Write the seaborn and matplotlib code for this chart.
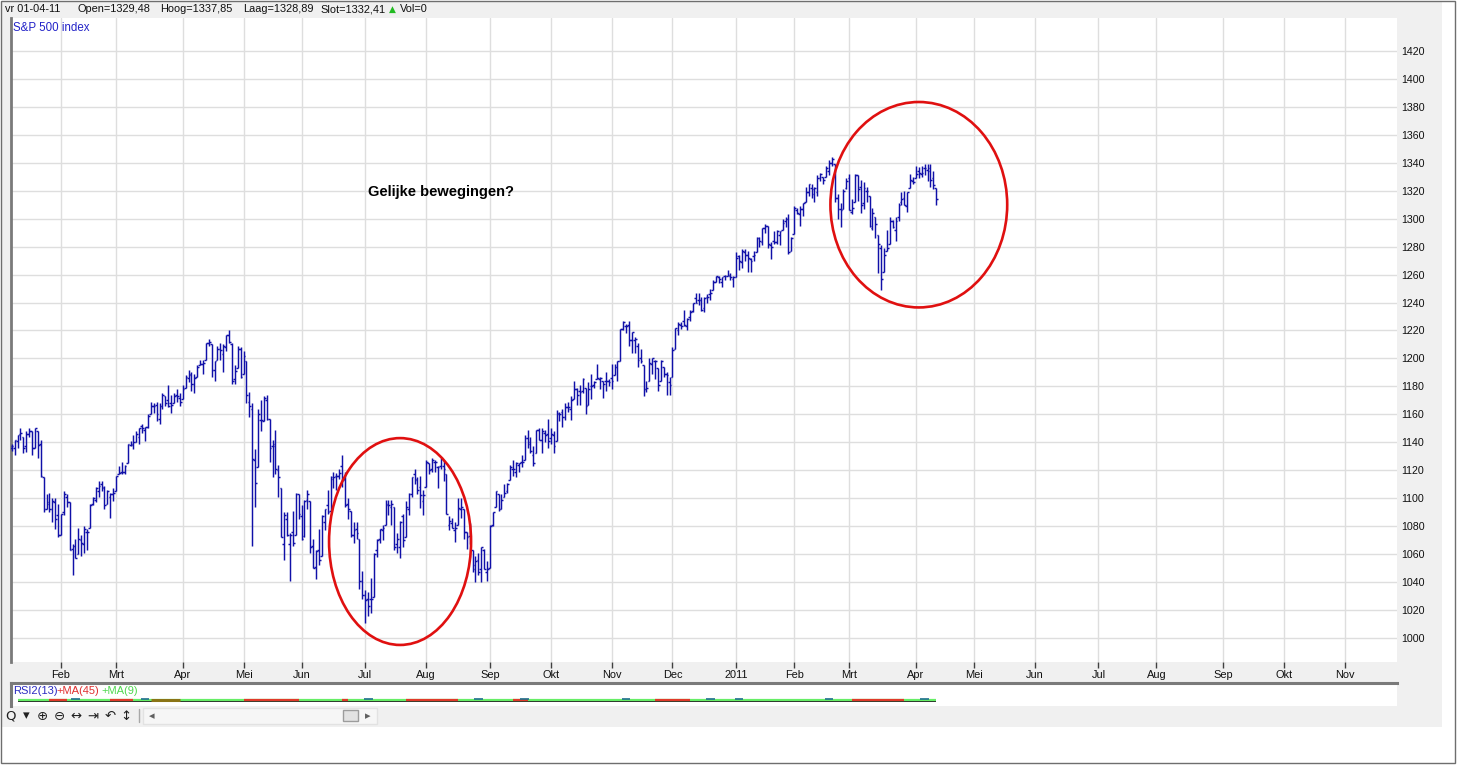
import numpy as np
import pandas as pd
import seaborn as sns
import matplotlib.pyplot as plt
from matplotlib.patches import Ellipse, Rectangle

sns.set_theme(style="white")
plt.rcParams['font.family'] = ['Liberation Sans', 'DejaVu Sans']

# --- DATA: S&P 500 daily bars, 4 jan 2010 .. 12 apr 2011 ---
holidays = ['2010-01-18', '2010-02-15', '2010-04-02', '2010-05-31', '2010-07-05',
            '2010-09-06', '2010-11-25', '2010-12-24', '2011-01-17', '2011-02-21',
            '2011-04-22', '2011-05-30', '2011-07-04', '2011-09-05', '2011-11-24']

opens = [
    1117, 1133, 1136, 1136, 1141, 1146, 1144, 1137, 1146, 1148, 1136, 1148, 1139, 1115, 1092, 1096, 1092, 1097, 1088,
    1074, 1090, 1101, 1097, 1064, 1066, 1060, 1070, 1067, 1076, 1079, 1096, 1099, 1105, 1110, 1107, 1096, 1101, 1103,
    1105, 1117, 1119, 1119, 1125, 1138, 1138, 1140, 1144, 1152, 1149, 1151, 1160, 1166, 1167, 1157, 1166, 1173, 1170, 1168, 1168, 1174, 1172,
    1171, 1179, 1186, 1188, 1182, 1187, 1195, 1196, 1199, 1211, 1210, 1192, 1199, 1207, 1203, 1208, 1217, 1210, 1185, 1193, 1207,
    1189, 1198, 1169, 1164, 1127, 1122, 1156, 1155, 1170, 1157, 1137, 1139, 1120, 1107, 1067, 1085, 1067, 1076, 1074, 1103,
    1087, 1073, 1099, 1098, 1066, 1051, 1063, 1059, 1083, 1095, 1091, 1114, 1116, 1116, 1123, 1114, 1096, 1091, 1074, 1078, 1071, 1041,
    1031, 1028, 1028, 1029, 1063, 1071, 1077, 1081, 1096, 1094, 1094, 1067, 1065, 1087, 1072, 1092, 1103, 1117, 1113, 1108, 1098,
    1108, 1125, 1121, 1126, 1122, 1123, 1123, 1117, 1081, 1082, 1077, 1081, 1092, 1092, 1076, 1073, 1063, 1049, 1056, 1049, 1063, 1047,
    1050, 1081, 1094, 1103, 1092, 1101, 1105, 1113, 1121, 1119, 1124, 1126, 1127, 1143, 1139, 1131, 1132, 1149, 1142, 1147, 1146,
    1143, 1145, 1141, 1160, 1162, 1158, 1165, 1164, 1171, 1178, 1177, 1177, 1179, 1167, 1180, 1181, 1185, 1185, 1184, 1184, 1184,
    1186, 1188, 1194, 1198, 1221, 1223, 1224, 1213, 1213, 1209, 1200, 1195, 1178, 1184, 1196, 1198, 1193, 1184, 1194, 1189, 1183,
    1187, 1207, 1220, 1224, 1227, 1223, 1230, 1234, 1243, 1242, 1242, 1236, 1244, 1246, 1249, 1255, 1258, 1255, 1259, 1259, 1259, 1257,
    1258, 1273, 1269, 1276, 1274, 1271, 1273, 1276, 1286, 1283, 1293, 1295, 1281, 1284, 1283, 1288, 1292, 1298, 1300, 1277,
    1289, 1306, 1303, 1307, 1312, 1319, 1322, 1318, 1319, 1329, 1330, 1330, 1334, 1340, 1339, 1315, 1307, 1307, 1322,
    1329, 1305, 1312, 1331, 1323, 1311, 1320, 1316, 1293, 1301, 1288, 1279, 1262, 1277, 1282, 1298, 1292, 1301, 1312, 1315, 1309, 1322, 1327,
    1329, 1334, 1332, 1336, 1335, 1336, 1329, 1322,
]
highs = [
    1134, 1137, 1139, 1142, 1145, 1150, 1144, 1148, 1150, 1148, 1150, 1148, 1142, 1115, 1103, 1104, 1100, 1100, 1096,
    1089, 1105, 1103, 1097, 1067, 1071, 1079, 1074, 1080, 1078, 1096, 1101, 1108, 1112, 1112, 1109, 1106, 1104, 1107,
    1116, 1123, 1126, 1124, 1139, 1141, 1145, 1148, 1150, 1153, 1151, 1160, 1169, 1168, 1169, 1168, 1175, 1173, 1181, 1174, 1175, 1178, 1175,
    1181, 1188, 1192, 1190, 1189, 1195, 1199, 1199, 1211, 1214, 1210, 1198, 1209, 1211, 1210, 1217, 1220, 1211, 1195, 1209, 1208,
    1205, 1198, 1176, 1168, 1135, 1164, 1170, 1173, 1174, 1157, 1142, 1149, 1124, 1107, 1090, 1090, 1075, 1091, 1104, 1103,
    1095, 1099, 1106, 1098, 1071, 1063, 1078, 1088, 1092, 1106, 1116, 1119, 1118, 1121, 1131, 1119, 1100, 1091, 1083, 1083, 1071, 1048,
    1034, 1033, 1043, 1061, 1071, 1078, 1081, 1099, 1099, 1099, 1094, 1075, 1084, 1089, 1098, 1104, 1115, 1121, 1115, 1116, 1106,
    1127, 1125, 1129, 1127, 1123, 1129, 1127, 1117, 1087, 1086, 1083, 1100, 1100, 1092, 1076, 1082, 1063, 1059, 1061, 1065, 1064, 1055,
    1081, 1090, 1105, 1103, 1103, 1110, 1111, 1124, 1127, 1126, 1125, 1131, 1145, 1149, 1144, 1137, 1149, 1150, 1150, 1149, 1157,
    1150, 1148, 1163, 1162, 1164, 1168, 1169, 1173, 1184, 1179, 1181, 1186, 1179, 1183, 1189, 1184, 1196, 1187, 1184, 1190, 1185,
    1196, 1196, 1198, 1221, 1227, 1225, 1227, 1219, 1215, 1211, 1207, 1195, 1184, 1200, 1200, 1199, 1193, 1199, 1194, 1190, 1187,
    1208, 1222, 1226, 1226, 1235, 1229, 1235, 1240, 1247, 1247, 1244, 1244, 1246, 1250, 1256, 1259, 1259, 1258, 1260, 1263, 1261, 1259,
    1276, 1274, 1278, 1278, 1277, 1272, 1277, 1287, 1287, 1293, 1296, 1295, 1283, 1291, 1292, 1291, 1300, 1301, 1303, 1287,
    1309, 1308, 1309, 1311, 1323, 1325, 1325, 1323, 1331, 1333, 1330, 1338, 1342, 1344, 1339, 1318, 1311, 1321, 1329,
    1332, 1314, 1332, 1331, 1328, 1326, 1323, 1316, 1308, 1301, 1288, 1281, 1279, 1292, 1301, 1299, 1301, 1311, 1319, 1320, 1319, 1332, 1330,
    1338, 1337, 1338, 1339, 1339, 1339, 1334, 1322,
]
lows = [
    1117, 1130, 1134, 1131, 1136, 1142, 1132, 1133, 1144, 1131, 1136, 1129, 1115, 1090, 1092, 1090, 1083, 1078, 1072,
    1074, 1088, 1094, 1063, 1045, 1057, 1060, 1059, 1061, 1063, 1079, 1095, 1097, 1101, 1105, 1092, 1096, 1086, 1098,
    1105, 1117, 1117, 1117, 1125, 1137, 1135, 1140, 1139, 1147, 1141, 1150, 1160, 1161, 1155, 1153, 1164, 1166, 1165, 1161, 1168, 1169, 1166,
    1171, 1179, 1183, 1177, 1175, 1187, 1195, 1189, 1199, 1209, 1187, 1184, 1199, 1199, 1190, 1205, 1211, 1182, 1182, 1193, 1186,
    1189, 1168, 1158, 1066, 1094, 1122, 1148, 1155, 1156, 1126, 1115, 1117, 1101, 1072, 1056, 1073, 1041, 1066, 1074, 1085,
    1070, 1072, 1092, 1061, 1050, 1042, 1052, 1059, 1077, 1089, 1091, 1107, 1106, 1114, 1108, 1094, 1085, 1072, 1068, 1071, 1035, 1028,
    1011, 1016, 1018, 1029, 1058, 1068, 1070, 1081, 1088, 1081, 1063, 1061, 1057, 1065, 1072, 1088, 1101, 1110, 1103, 1093, 1088,
    1108, 1117, 1119, 1119, 1107, 1121, 1112, 1089, 1077, 1079, 1069, 1081, 1086, 1071, 1064, 1067, 1047, 1040, 1045, 1040, 1049, 1041,
    1050, 1080, 1094, 1091, 1092, 1101, 1104, 1113, 1116, 1115, 1119, 1122, 1127, 1136, 1132, 1123, 1132, 1142, 1132, 1140, 1136,
    1139, 1132, 1141, 1155, 1151, 1156, 1162, 1156, 1171, 1167, 1167, 1175, 1160, 1167, 1171, 1179, 1185, 1178, 1172, 1177, 1180,
    1178, 1188, 1184, 1198, 1220, 1218, 1209, 1204, 1204, 1194, 1197, 1173, 1176, 1184, 1189, 1185, 1177, 1184, 1187, 1174, 1174,
    1187, 1207, 1217, 1221, 1223, 1220, 1227, 1233, 1240, 1238, 1234, 1233, 1240, 1242, 1249, 1255, 1254, 1251, 1256, 1259, 1256, 1251,
    1258, 1263, 1265, 1270, 1262, 1262, 1270, 1276, 1280, 1281, 1290, 1279, 1271, 1282, 1282, 1281, 1292, 1294, 1275, 1277,
    1289, 1303, 1295, 1302, 1312, 1316, 1315, 1312, 1316, 1327, 1325, 1330, 1331, 1338, 1312, 1300, 1294, 1307, 1321,
    1306, 1303, 1312, 1313, 1304, 1307, 1312, 1294, 1292, 1286, 1261, 1249, 1262, 1277, 1282, 1293, 1284, 1298, 1310, 1310, 1305, 1322, 1325,
    1329, 1329, 1330, 1331, 1327, 1323, 1321, 1310,
]
closes = [
    1133, 1137, 1137, 1142, 1145, 1147, 1136, 1146, 1148, 1136, 1150, 1138, 1116, 1092, 1097, 1092, 1098, 1085, 1074,
    1089, 1103, 1097, 1063, 1066, 1057, 1071, 1068, 1078, 1076, 1095, 1100, 1107, 1109, 1108, 1095, 1105, 1103, 1104,
    1116, 1118, 1119, 1123, 1139, 1139, 1140, 1146, 1150, 1150, 1151, 1159, 1166, 1166, 1160, 1166, 1174, 1168, 1166, 1167, 1173, 1173, 1169,
    1178, 1187, 1189, 1182, 1186, 1194, 1196, 1197, 1211, 1212, 1192, 1198, 1207, 1206, 1209, 1217, 1212, 1184, 1191, 1207, 1187,
    1202, 1174, 1166, 1128, 1111, 1160, 1156, 1172, 1157, 1136, 1137, 1121, 1115, 1072, 1088, 1074, 1074, 1068, 1103, 1089,
    1071, 1098, 1103, 1065, 1050, 1062, 1056, 1087, 1092, 1090, 1115, 1115, 1116, 1118, 1113, 1095, 1092, 1074, 1077, 1075, 1041, 1031,
    1027, 1023, 1028, 1060, 1070, 1078, 1079, 1095, 1095, 1096, 1065, 1071, 1083, 1070, 1094, 1103, 1115, 1114, 1106, 1102, 1102,
    1126, 1120, 1127, 1126, 1122, 1128, 1121, 1089, 1084, 1079, 1079, 1093, 1094, 1076, 1072, 1067, 1052, 1055, 1047, 1065, 1049, 1049,
    1080, 1090, 1105, 1092, 1099, 1104, 1110, 1122, 1121, 1125, 1125, 1126, 1143, 1140, 1134, 1125, 1149, 1142, 1148, 1145, 1141,
    1146, 1137, 1161, 1160, 1158, 1165, 1165, 1170, 1178, 1174, 1176, 1185, 1166, 1178, 1180, 1183, 1186, 1186, 1182, 1184, 1183,
    1184, 1194, 1198, 1221, 1226, 1223, 1213, 1219, 1214, 1199, 1198, 1178, 1179, 1197, 1200, 1198, 1181, 1198, 1189, 1188, 1181,
    1206, 1222, 1225, 1223, 1224, 1228, 1233, 1240, 1240, 1242, 1235, 1243, 1244, 1247, 1255, 1259, 1257, 1258, 1259, 1260, 1258, 1258,
    1272, 1270, 1277, 1274, 1272, 1270, 1274, 1286, 1284, 1293, 1295, 1282, 1280, 1283, 1291, 1291, 1297, 1300, 1276, 1286,
    1308, 1304, 1307, 1311, 1319, 1325, 1321, 1322, 1329, 1332, 1328, 1336, 1340, 1343, 1315, 1307, 1306, 1320, 1327,
    1306, 1308, 1331, 1321, 1310, 1322, 1320, 1295, 1304, 1296, 1282, 1257, 1274, 1279, 1298, 1294, 1298, 1310, 1314, 1310, 1319, 1328, 1326,
    1332, 1333, 1333, 1336, 1334, 1328, 1324, 1314,
]

month_nl = ['Jan', 'Feb', 'Mrt', 'Apr', 'Mei', 'Jun', 'Jul', 'Aug', 'Sep', 'Okt', 'Nov', 'Dec']
price_ticks = list(range(1000, 1421, 20))

# red circles drawn on the chart (centre day, centre price, width in days, height in points)
circle_days = ['2010-07-20', '2011-04-04']
circle_prices = [1069, 1310]
circle_widths = [49, 61]
circle_heights = [148, 147]

# squashed indicator panel underneath
rsi_red_spans = [('2010-01-26', '2010-02-03'), ('2010-02-25', '2010-03-09'), ('2010-05-03', '2010-05-28'),
                 ('2010-06-21', '2010-06-23'), ('2010-07-22', '2010-08-17'), ('2010-09-14', '2010-09-21'),
                 ('2010-11-22', '2010-12-09'), ('2011-03-02', '2011-03-28')]
rsi_olive_spans = [('2010-03-17', '2010-03-31')]
rsi_blue_marks = ['2010-02-08', '2010-03-15', '2010-07-02', '2010-08-26', '2010-09-20',
                  '2010-11-08', '2010-12-20', '2011-01-04', '2011-02-17', '2011-04-06']

header_parts = ['vr 01-04-11', 'Open=1329,48', 'Hoog=1337,85', 'Laag=1328,89', 'Slot=1332,41']
header_x = [5, 78, 160, 243, 320]

# --- BUILD TABLE ---
trade_days = pd.bdate_range('2010-01-04', '2011-11-30')
trade_days = trade_days[~trade_days.isin(pd.to_datetime(holidays))]
n = len(closes)
assert len(opens) == len(highs) == len(lows) == n
df = pd.DataFrame({'date': trade_days[:n], 'open': opens, 'high': highs,
                   'low': lows, 'close': closes})
df['x'] = np.arange(n)
pos = {d: i for i, d in enumerate(trade_days)}


def dx(d):
    return pos[pd.Timestamp(d)]


x_lo, x_hi = 1.75, 480

# first trading day of every month -> tick (only the ones inside the view)
per = pd.Series(trade_days.to_period('M'))
first = [i for i in np.flatnonzero(per.ne(per.shift()).to_numpy()) if i > x_lo]
tick_lbl = [str(trade_days[i].year) if trade_days[i].month == 1 else month_nl[trade_days[i].month - 1]
            for i in first]

# --- FIGURE ---
W, H = 1458, 765
fig = plt.figure(figsize=(W / 100, H / 100), dpi=100, facecolor='white')


def box(x0, y0, x1, y1):
    return [x0 / W, 1 - y1 / H, (x1 - x0) / W, (y1 - y0) / H]


def px(x, y):
    return x / W, 1 - y / H


# window background + border
fig.add_artist(Rectangle(px(1, 727), 1441 / W, 726 / H, transform=fig.transFigure,
                         fc='#f0f0f0', ec='none', zorder=-5))
fig.add_artist(Rectangle(px(1, 763), 1454 / W, 762 / H, transform=fig.transFigure,
                         fill=False, ec='#6e6e6e', lw=1, zorder=10))

# main price chart
ax = fig.add_axes(box(11, 18, 1397, 662))
ax.set_facecolor('white')
navy = '#1010a8'
ax.vlines(df['x'], df['low'], df['high'], color=navy, lw=1.05, zorder=3)
ax.hlines(df['open'], df['x'] - 0.6, df['x'], color=navy, lw=1.05, zorder=3)
ax.hlines(df['close'], df['x'], df['x'] + 0.6, color=navy, lw=1.05, zorder=3)

for d, p, w, h in zip(circle_days, circle_prices, circle_widths, circle_heights):
    ax.add_patch(Ellipse((dx(d), p), w, h, fill=False, ec='#e01010', lw=1.9, zorder=4))

ax.set_xticks(first)
ax.set_xticklabels(tick_lbl)
ax.set_yticks(price_ticks)
ax.set_xlim(x_lo, x_hi)
ax.set_ylim(982.8, 1443.6)
ax.grid(True, color='#dedede', lw=1)
ax.set_axisbelow(True)
sns.despine(ax=ax, top=True, right=True, bottom=True, left=False)
ax.spines['left'].set_color('#7a7a7a')
ax.spines['left'].set_linewidth(2)
ax.tick_params(axis='x', bottom=True, length=4, width=1, color='#404040', pad=1.5,
               labelsize=7.9, labelcolor='#111111')
ax.yaxis.tick_right()
ax.tick_params(axis='y', left=False, right=False, labelleft=False, labelright=True,
               length=0, pad=3, labelsize=7.7, labelcolor='#111111')

ax.text(2 / 1386, 1 - 10 / 644, 'S&P 500 index', transform=ax.transAxes, color='#2323c8',
        fontsize=8.3, va='center', ha='left')
ax.text((368 - 11) / 1386, (662 - 192) / 644, 'Gelijke bewegingen?', transform=ax.transAxes,
        fontsize=10.5, fontweight='bold', color='black', va='center', ha='left')

# indicator panel
ax2 = fig.add_axes(box(11, 683, 1397, 706))
ax2.set_facecolor('white')
ax2.set_xlim(x_lo, x_hi)
ax2.set_ylim(0, 23)
ax2.set_xticks([])
ax2.set_yticks([])
for s in ['bottom', 'right']:
    ax2.spines[s].set_visible(False)
for s in ['top', 'left']:
    ax2.spines[s].set_color('#7a7a7a')
    ax2.spines[s].set_linewidth(2.2)
x_end = df['x'].iloc[-1]
ax2.hlines(4.6, 4, x_end, color='black', lw=1.2)
ax2.hlines(6.0, 4, x_end, color='#66ee66', lw=1.6)
for a, b in rsi_red_spans:
    ax2.hlines(6.0, dx(a), dx(b), color='#e03a2a', lw=1.6)
for a, b in rsi_olive_spans:
    ax2.hlines(6.0, dx(a), dx(b), color='#8a7416', lw=2.2)
for d in rsi_blue_marks:
    ax2.hlines(7.0, dx(d) - 1.5, dx(d) + 1.5, color='#1f6f8f', lw=1.2)

for txt, x, col in zip(['RSI2(13)', '+MA(45)', '+MA(9)'], [13, 56, 101],
                       ['#2a2ac0', '#e03030', '#4ed84e']):
    fig.text(*px(x, 691), txt, color=col, fontsize=8, va='center', ha='left')

# header line
for txt, x in zip(header_parts, header_x):
    fig.text(*px(x, 9), txt, fontsize=7.9, color='#111111', va='center', ha='left')
fig.text(*px(389, 9.5), '\u25b2', fontsize=6.5, color='#22bb22', va='center', ha='left',
         family=['DejaVu Sans'])
fig.text(*px(400, 9), 'Vol=0', fontsize=7.9, color='#111111', va='center', ha='left')

# toolbar
icons = ['Q', '\u25be', '\u2295', '\u2296', '\u2194', '\u21e5', '\u21b6', '\u2195']
icon_x = [10, 26, 42, 59, 76, 93, 110, 126]
for ic, x in zip(icons, icon_x):
    fig.text(*px(x, 716), ic, fontsize=9.5, color='#202020', va='center', ha='center',
             family=['DejaVu Sans'])
fig.add_artist(plt.Line2D([139 / W, 139 / W], [1 - 709 / H, 1 - 722 / H], transform=fig.transFigure,
                          color='#a8a8a8', lw=1))
fig.add_artist(Rectangle(px(143, 724), 234 / W, 16 / H, transform=fig.transFigure,
                         fc='#f6f6f6', ec='#e2e2e2', lw=1))
fig.add_artist(Rectangle(px(343, 721), 15 / W, 11 / H, transform=fig.transFigure,
                         fc='#e2e2e2', ec='#9c9c9c', lw=1))
fig.text(*px(152, 716), '\u25c2', fontsize=8, color='#606060', va='center', ha='center',
         family=['DejaVu Sans'])
fig.text(*px(368, 716), '\u25b8', fontsize=8, color='#606060', va='center', ha='center',
         family=['DejaVu Sans'])

fig.savefig('out.png', dpi=100, facecolor=fig.get_facecolor())
